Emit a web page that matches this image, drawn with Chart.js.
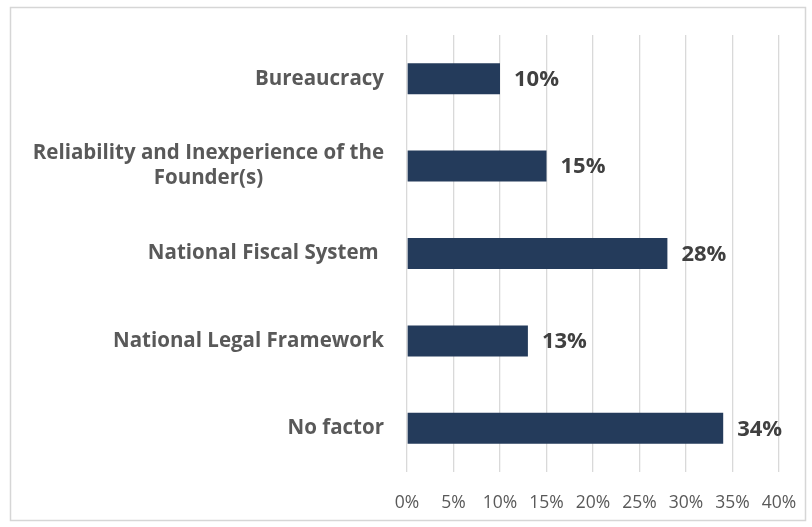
<!DOCTYPE html>
<html>
<head>
<meta charset="utf-8">
<script src="https://cdn.jsdelivr.net/npm/chart.js@4.4.0/dist/chart.umd.min.js"></script>
<style>
  html, body { margin: 0; padding: 0; background: #fff; }
  #kutu { width: 812px; height: 527px; position: relative; }
</style>
</head>
<body>
<div id="kutu"><canvas id="grafik"></canvas></div>
<script>
// Veriler
const categories = [
  'Bureaucracy',
  ['Reliability and Inexperience of the', 'Founder(s)'],
  'National Fiscal System ',
  'National Legal Framework',
  'No factor'
];
const values = [10, 15, 28, 13, 34];
const tickValues = [0, 5, 10, 15, 20, 25, 30, 35, 40];
const tickLabels = ['0%', '5%', '10%', '15%', '20%', '25%', '30%', '35%', '40%'];

const FONT = '"Open Sans", Lato, sans-serif';

// Dış çerçeve
const cerceve = {
  id: 'cerceve',
  beforeDraw(chart) {
    const ctx = chart.ctx;
    ctx.save();
    ctx.strokeStyle = '#d6d6d6';
    ctx.lineWidth = 1.5;
    ctx.strokeRect(10.5, 7.5, 795, 513);
    ctx.restore();
  }
};

// Kategori etiketleri (çok satırlı olanlar ortalanır)
const kategoriEtiketleri = {
  id: 'kategoriEtiketleri',
  afterDraw(chart) {
    const ctx = chart.ctx;
    const y = chart.scales.y;
    const right = chart.chartArea.left - 23;
    ctx.save();
    ctx.font = 'bold 20.5px ' + FONT;
    ctx.fillStyle = '#595959';
    ctx.textAlign = 'center';
    ctx.textBaseline = 'middle';
    categories.forEach((cat, i) => {
      const lines = Array.isArray(cat) ? cat : [cat];
      const maxW = Math.max(...lines.map(l => ctx.measureText(l).width));
      const cx = right - maxW / 2;
      const cy = y.getPixelForValue(i);
      lines.forEach((l, j) => {
        ctx.fillText(l, cx, cy + (j - (lines.length - 1) / 2) * 25);
      });
    });
    ctx.restore();
  }
};

// Çubuk değer etiketleri
const degerEtiketleri = {
  id: 'degerEtiketleri',
  afterDatasetsDraw(chart) {
    const ctx = chart.ctx;
    const meta = chart.getDatasetMeta(0);
    ctx.save();
    ctx.font = 'bold 22px ' + FONT;
    ctx.fillStyle = '#404040';
    ctx.textAlign = 'left';
    ctx.textBaseline = 'middle';
    meta.data.forEach((bar, i) => {
      ctx.fillText(values[i] + '%', bar.x + 14, bar.y + 1);
    });
    ctx.restore();
  }
};

new Chart(document.getElementById('grafik'), {
  type: 'bar',
  data: {
    labels: categories,
    datasets: [{
      data: values,
      backgroundColor: '#243b5b',
      borderWidth: 0,
      categoryPercentage: 1,
      barPercentage: 0.355
    }]
  },
  options: {
    indexAxis: 'y',
    responsive: true,
    maintainAspectRatio: false,
    animation: false,
    layout: { padding: { top: 35, right: 33, bottom: 0, left: 0 } },
    plugins: {
      legend: { display: false },
      tooltip: { enabled: false }
    },
    scales: {
      x: {
        min: 0,
        max: 40,
        afterBuildTicks(scale) {
          scale.ticks = tickValues.map(v => ({ value: v }));
        },
        afterFit(scale) {
          scale.height = 55;
          scale.paddingLeft = 0;
          scale.paddingRight = 0;
        },
        grid: { color: '#d9d9d9', lineWidth: 1.3, drawTicks: false },
        border: { display: false },
        ticks: {
          padding: 21,
          color: '#595959',
          font: { family: FONT, size: 17.5 },
          callback: (v, i) => tickLabels[i]
        }
      },
      y: {
        afterFit(scale) {
          scale.width = 407;
          scale.paddingTop = 0;
          scale.paddingBottom = 0;
        },
        grid: { display: false },
        border: { display: false },
        ticks: { display: false }
      }
    }
  },
  plugins: [cerceve, kategoriEtiketleri, degerEtiketleri]
});
</script>
</body>
</html>
